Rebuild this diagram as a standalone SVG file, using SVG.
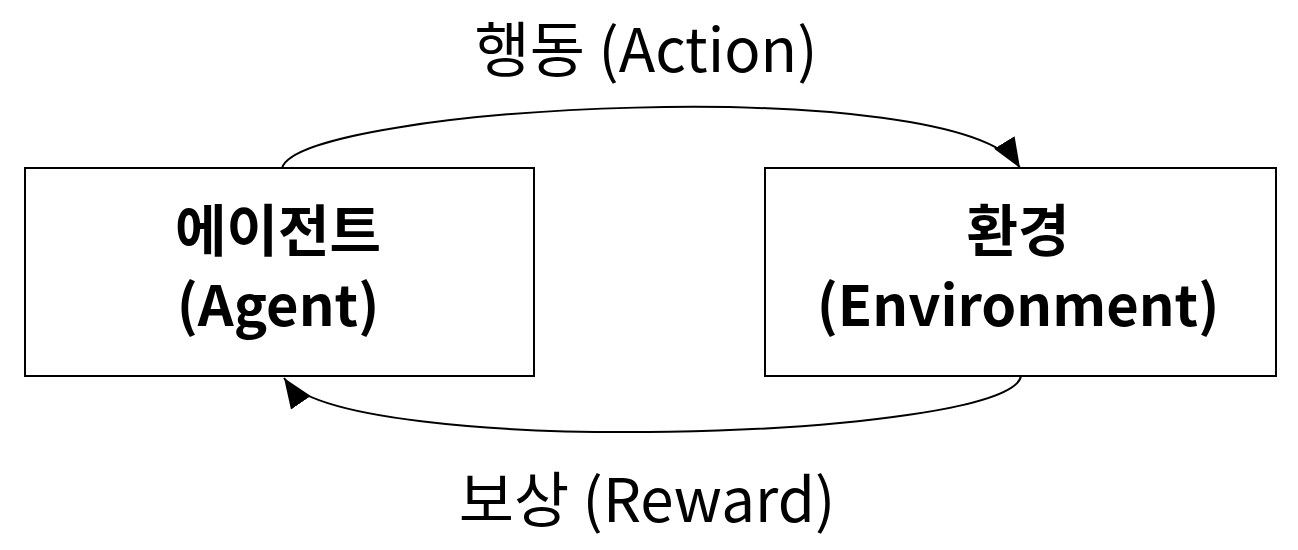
<svg xmlns="http://www.w3.org/2000/svg" width="1298" height="550" viewBox="0 0 1298 550">
<style>
.box{fill:#fff;stroke:#000;stroke-width:2}
.lbl{font-family:"Noto Sans CJK KR","Noto Sans",sans-serif;font-weight:bold;font-size:56px;text-anchor:middle;fill:#000}
.edge{font-family:"Noto Sans CJK KR","Noto Sans",sans-serif;font-size:60px;text-anchor:middle;fill:#000}
.conn{fill:none;stroke:#000;stroke-width:2}
</style>
<defs>
<marker id="ah" markerWidth="32" markerHeight="24" refX="30" refY="12" orient="auto" markerUnits="userSpaceOnUse">
<path d="M0,0 L30,12 L0,24 Z" fill="#000"/>
</marker>
</defs>
<rect width="1298" height="550" fill="#fff"/>
<g id="connectors">
<path class="conn" d="M282,168 C300,105 960,70 1020,168" marker-end="url(#ah)"/>
<path class="conn" d="M1021,376 C1010,440 340,460 284,378" marker-end="url(#ah)"/>
</g>
<g id="agent">
<rect class="box" x="25" y="168" width="509" height="208"/>
<text class="lbl" x="278" y="251">에이전트</text>
<text class="lbl" x="278" y="326">(Agent)</text>
</g>
<g id="environment">
<rect class="box" x="765" y="168" width="511" height="208"/>
<text class="lbl" x="1018" y="251">환경</text>
<text class="lbl" x="1018" y="326">(Environment)</text>
</g>
<g id="labels">
<text class="edge" x="646" y="72">행동 (Action)</text>
<text class="edge" x="647" y="522">보상 (Reward)</text>
</g>
</svg>
